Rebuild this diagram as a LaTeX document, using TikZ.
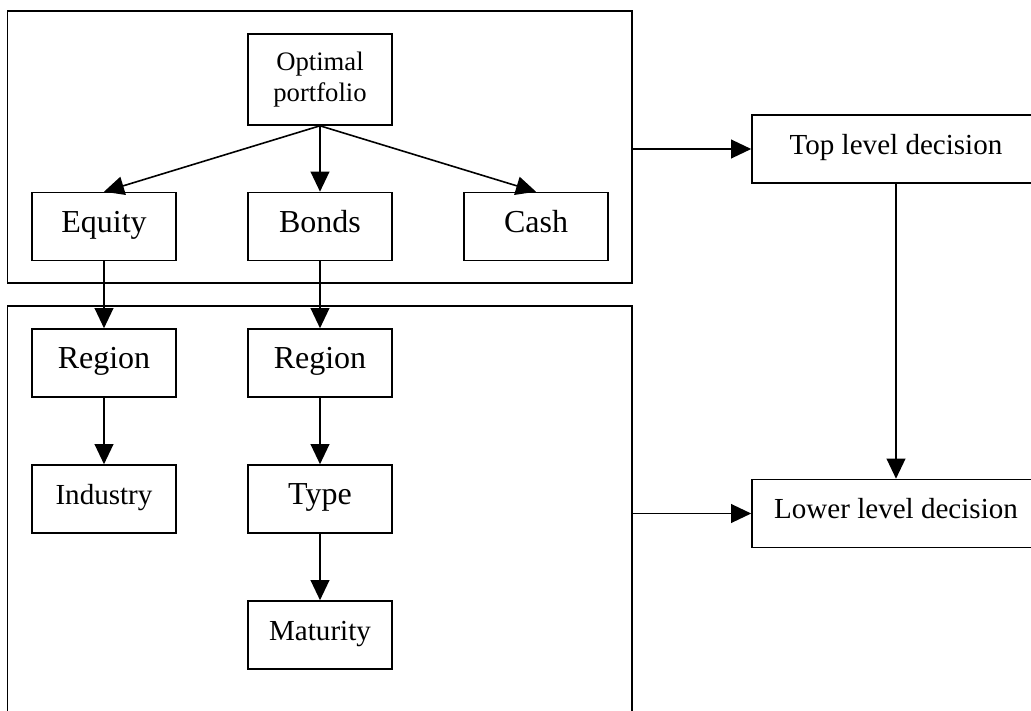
\documentclass[tikz,border=0pt]{standalone}
\usepackage{fontspec}
\setmainfont{Liberation Serif}
\usetikzlibrary{arrows.meta}
\begin{document}
\begin{tikzpicture}[x=0.75pt,y=-0.75pt,
  frame/.style={draw, line width=1.2pt, inner sep=0pt},
  box/.style={draw, line width=1.2pt, minimum width=108pt, minimum height=51pt,
    inner sep=0pt, text height=14.4pt, text depth=6pt,
    font=\fontsize{24}{28}\selectfont},
  smallbox/.style={box, text height=13.1pt, text depth=5.4pt,
    font=\fontsize{21.8}{26}\selectfont},
  widebox/.style={smallbox, minimum width=216pt},
  arr/.style={-{Triangle[length=15pt,width=14pt]}, line width=1.2pt}]
\useasboundingbox (0,0) rectangle (1031,710);
\clip (0,0) rectangle (1031,710);
% outer frames
\node[frame, minimum width=468.4pt, minimum height=204pt] (upper) at (319.75,147) {};
\node[frame, minimum width=468.4pt, minimum height=310.5pt] (lower) at (319.75,513) {};
% top level nodes
\node[box, minimum height=68.25pt, align=center, text height=, text depth=,
  font=\fontsize{20}{23}\selectfont] (opt) at (320,79.5) {Optimal\\portfolio};
\node[box] (eq) at (104,226.5) {Equity};
\node[box] (bonds) at (320,226.5) {Bonds};
\node[box] (cash) at (536,226.5) {Cash};
% lower level nodes
\node[box] (reg1) at (104,363) {Region};
\node[box] (reg2) at (320,363) {Region};
\node[smallbox] (ind) at (104,499) {Industry};
\node[box] (type) at (320,499) {Type};
\node[smallbox] (mat) at (320,635) {Maturity};
% decision nodes
\node[widebox] (toplev) at (896,149) {Top level decision};
\node[widebox] (lowlev) at (896,513.5) {Lower level decision};
% connectors
\draw[arr] (opt.south) -- (eq.north);
\draw[arr] (opt.south) -- (bonds.north);
\draw[arr] (opt.south) -- (cash.north);
\draw[arr] (eq.south) -- (reg1.north);
\draw[arr] (bonds.south) -- (reg2.north);
\draw[arr] (reg1.south) -- (ind.north);
\draw[arr] (reg2.south) -- (type.north);
\draw[arr] (type.south) -- (mat.north);
\draw[arr] (toplev.west -| upper.east) -- (toplev.west);
\draw[arr] (lowlev.west -| lower.east) -- (lowlev.west);
\draw[arr] (toplev.south) -- (lowlev.north);
\end{tikzpicture}
\end{document}
